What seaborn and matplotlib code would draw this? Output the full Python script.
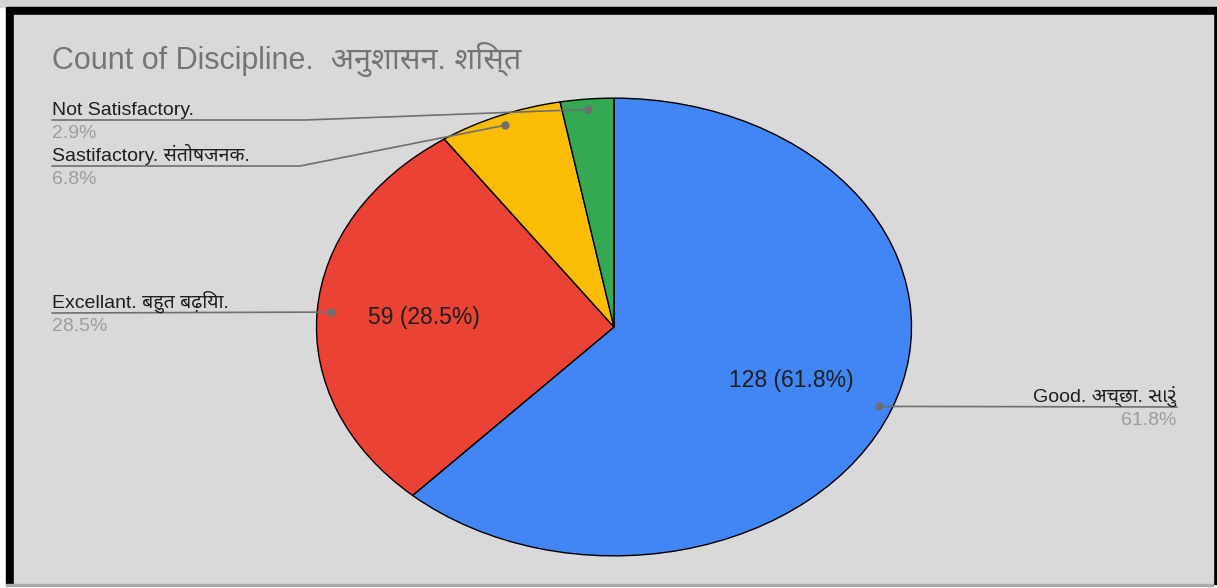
import numpy as np
import seaborn as sns
import matplotlib
matplotlib.use("Agg")
import matplotlib.pyplot as plt
from matplotlib.patches import Rectangle

# Data
categories = ["Good. अच्छा. સારું", "Excellant. बहुत बढ़िया.",
              "Sastifactory. संतोषजनक.", "Not Satisfactory."]
counts = [128, 59, 14, 6]
colors = ["#4285f4", "#ea4335", "#fbbc04", "#34a853"]
title = "Count of Discipline.  अनुशासन. शिस्त"

sns.set_theme(style="white")
fonts = ["Liberation Sans", "Noto Sans Devanagari", "Noto Sans Devanagari UI",
         "Noto Sans Gujarati", "Noto Sans Gujarati UI", "DejaVu Sans"]
plt.rcParams["font.family"] = fonts

W, H = 1217, 588
fig = plt.figure(figsize=(W / 100, H / 100), dpi=100, facecolor="white")

# frame of the screenshot
bg = fig.add_axes([0, 0, 1, 1])
bg.set_xlim(0, W)
bg.set_ylim(H, 0)
bg.axis("off")
bg.add_patch(Rectangle((0, 0), W, 7, color="#d4d4d4", zorder=0))
bg.add_patch(Rectangle((6, 7), W - 6, 577, color="black", zorder=0))
bg.add_patch(Rectangle((14, 15), W - 18, 569, color="#d9d9d9", zorder=0))
bg.add_patch(Rectangle((6, 584), W - 10, 2, color="#a8a8a8", zorder=0))

# pie geometry (pixels)
cx, cy, rx, ry = 614, 327, 299, 230
ax = fig.add_axes([(cx - rx) / W, (H - cy - ry) / H, 2 * rx / W, 2 * ry / H])
total = sum(counts)


def fmt(p):
    return f"{round(p * total / 100)} ({p:.1f}%)" if p > 10 else ""


wedges, _, autotexts = ax.pie(
    counts, colors=colors, startangle=90, counterclock=False,
    wedgeprops=dict(edgecolor="black", linewidth=1),
    autopct=fmt, pctdistance=0.64,
    textprops=dict(fontsize=16.5, color="#1f1f1f"),
)
ax.set_aspect("auto")
ax.set_xlim(-1.005, 1.005)
ax.set_ylim(-1.005, 1.005)

# overlay for labels and leader lines
ov = fig.add_axes([0, 0, 1, 1], zorder=5)
ov.set_xlim(0, W)
ov.set_ylim(H, 0)
ov.axis("off")

line_c = "#6f6f6f"
pct_c = "#9e9e9e"
lab_fs = 14
# label anchor rows: (line y, side, elbow x)
rows = [(407, "right", None), (313, "left", None), (166, "left", 300), (120, "left", 305)]
for w, cat, n, (ly, side, elbow) in zip(wedges, categories, counts, rows):
    mid = np.deg2rad((w.theta1 + w.theta2) / 2)
    dx = cx + 0.95 * rx * np.cos(mid)
    dy = cy - 0.95 * ry * np.sin(mid)
    ov.plot(dx, dy, "o", ms=5, color=line_c)
    pct = f"{100 * n / total:.1f}%"
    if side == "right":
        ov.plot([dx, 1177], [dy, ly], color=line_c, lw=1.2)
        ov.text(1176, ly - 5, cat, ha="right", va="baseline", fontsize=lab_fs, color="#1f1f1f")
        ov.text(1176, ly + 18, pct, ha="right", va="baseline", fontsize=lab_fs, color=pct_c)
    else:
        xs = [dx, 52] if elbow is None else [dx, elbow, 52]
        ys = [dy, ly] if elbow is None else [dy, ly, ly]
        ov.plot(xs, ys, color=line_c, lw=1.2)
        ov.text(52, ly - 5, cat, ha="left", va="baseline", fontsize=lab_fs, color="#1f1f1f")
        ov.text(52, ly + 18, pct, ha="left", va="baseline", fontsize=lab_fs, color=pct_c)

ov.text(52, 69, title, ha="left", va="baseline", fontsize=22, color="#757575")

fig.savefig("out.png", dpi=100, facecolor=fig.get_facecolor())
